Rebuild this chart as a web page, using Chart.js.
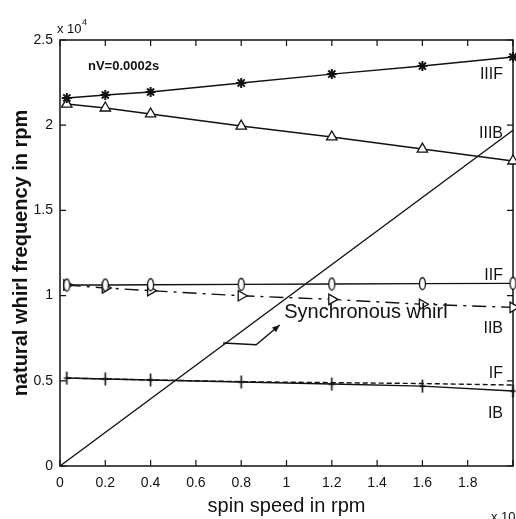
<!DOCTYPE html>
<html>
<head>
<meta charset="utf-8">
<script src="https://cdn.jsdelivr.net/npm/chart.js@4.4.0/dist/chart.umd.min.js"></script>
<style>
  html, body { margin: 0; padding: 0; background: #fff; overflow: hidden; }
  /* a little wider than the window: the plot runs off the right edge like the scan */
  #wrap { position: relative; width: 522px; height: 519px; }
</style>
</head>
<body>
<div id="wrap"><canvas id="whirlChart"></canvas></div>
<script>
// Campbell diagram, both axes in units of 10^4 rpm
const spinSpeed = [0.03, 0.2, 0.4, 0.8, 1.2, 1.6, 2.0];
const modeIIIF = [2.160, 2.177, 2.195, 2.248, 2.300, 2.347, 2.400];
const modeIIIB = [2.124, 2.101, 2.066, 1.995, 1.931, 1.860, 1.790];
const modeIIF = [1.062, 1.062, 1.064, 1.066, 1.068, 1.070, 1.072];
const modeIIB = [1.062, 1.045, 1.029, 0.999, 0.978, 0.949, 0.931];
const modeIF = [0.516, 0.511, 0.505, 0.495, 0.489, 0.484, 0.475];
const modeIB = [0.516, 0.511, 0.505, 0.493, 0.481, 0.469, 0.440];

const syncSpeed = [0, 2];
const syncWhirl = [0, 1.97];

// leader line from the synchronous line to its label
const leaderX = [0.72, 0.866, 0.97];
const leaderY = [0.722, 0.712, 0.827];

const modeNames = ['IIIF', 'IIIB', 'IIF', 'IIB', 'IF', 'IB'];
const nameLevels = [2.271, 1.925, 1.092, 0.781, 0.516, 0.282];

const INK = '#111';
const FONT = '"Liberation Sans", Arial, sans-serif';

function toPoints(xs, ys) {
    return xs.map((x, i) => ({ x: x, y: ys[i] }));
}

// little marker images the built-in point styles don't have
function makeMarker(w, h, draw) {
    const c = document.createElement('canvas');
    c.width = w; c.height = h;
    const g = c.getContext('2d');
    g.strokeStyle = INK;
    g.fillStyle = '#fff';
    g.lineWidth = 1.3;
    draw(g, w, h);
    return c;
}

const ellipseMark = makeMarker(9, 15, (g, w, h) => {
    g.beginPath();
    g.ellipse(w / 2, h / 2, 3, 6, 0, 0, Math.PI * 2);
    g.fill();
    g.stroke();
});

const plusMark = makeMarker(9, 15, (g, w, h) => {
    g.lineWidth = 1.6;
    g.beginPath();
    g.moveTo(w / 2, 1); g.lineTo(w / 2, h - 1);
    g.moveTo(1.5, h / 2); g.lineTo(w - 1.5, h / 2);
    g.stroke();
});

function series(label, ys, extra) {
    return Object.assign({
        label: label,
        data: toPoints(spinSpeed, ys),
        borderColor: INK,
        backgroundColor: '#fff',
        borderWidth: 1.4,
        pointBorderColor: INK,
        pointBorderWidth: 1.3,
        pointRadius: 5,
        tension: 0,
        clip: false
    }, extra);
}

const frame = {
    id: 'frame',
    beforeDatasetsDraw(chart) {
        const { ctx, chartArea: a, scales: { x, y } } = chart;
        ctx.save();
        ctx.strokeStyle = INK;
        ctx.lineWidth = 1.5;
        ctx.strokeRect(a.left, a.top, a.right - a.left, a.bottom - a.top);
        ctx.lineWidth = 1.2;
        ctx.beginPath();
        x.ticks.forEach(t => {
            const px = x.getPixelForValue(t.value);
            ctx.moveTo(px, a.bottom); ctx.lineTo(px, a.bottom - 6);
            ctx.moveTo(px, a.top); ctx.lineTo(px, a.top + 6);
        });
        y.ticks.forEach(t => {
            const py = y.getPixelForValue(t.value);
            ctx.moveTo(a.left, py); ctx.lineTo(a.left + 6, py);
            ctx.moveTo(a.right, py); ctx.lineTo(a.right - 6, py);
        });
        ctx.stroke();
        ctx.restore();
    },
    afterDraw(chart) {
        const { ctx, chartArea: a, scales: { x, y } } = chart;
        ctx.save();
        ctx.fillStyle = INK;
        ctx.strokeStyle = INK;

        // arrow head at the end of the leader
        const n = leaderX.length;
        const x1 = x.getPixelForValue(leaderX[n - 2]), y1 = y.getPixelForValue(leaderY[n - 2]);
        const x2 = x.getPixelForValue(leaderX[n - 1]), y2 = y.getPixelForValue(leaderY[n - 1]);
        const ang = Math.atan2(y2 - y1, x2 - x1);
        ctx.beginPath();
        ctx.moveTo(x2, y2);
        ctx.lineTo(x2 - 8 * Math.cos(ang - 0.4), y2 - 8 * Math.sin(ang - 0.4));
        ctx.lineTo(x2 - 8 * Math.cos(ang + 0.4), y2 - 8 * Math.sin(ang + 0.4));
        ctx.closePath();
        ctx.fill();

        ctx.textBaseline = 'alphabetic';
        ctx.textAlign = 'left';
        ctx.font = '20px ' + FONT;
        ctx.fillText('Synchronous whirl', x.getPixelForValue(0.99), y.getPixelForValue(0.868));

        // mode names at the right edge
        ctx.textAlign = 'right';
        ctx.font = '16px "Liberation Sans Narrow", ' + FONT;
        modeNames.forEach((name, i) => {
            ctx.fillText(name, a.right - 10, y.getPixelForValue(nameLevels[i]));
        });

        ctx.textAlign = 'left';
        ctx.font = 'bold 13px ' + FONT;
        ctx.fillText('nV=0.0002s', a.left + 28, a.top + 30);

        // exponent notes
        ctx.font = '13px ' + FONT;
        ctx.fillText('x 10', a.left - 3, a.top - 7);
        ctx.font = '9px ' + FONT;
        ctx.fillText('4', a.left + 22, a.top - 15);
        ctx.font = '13px ' + FONT;
        ctx.fillText('x 10', a.right - 22, a.bottom + 55);
        ctx.restore();
    }
};

new Chart(document.getElementById('whirlChart'), {
    type: 'line',
    data: {
        datasets: [
            series('IIIF', modeIIIF, { pointStyle: 'star', pointRadius: 5, pointBorderWidth: 2 }),
            series('IIIB', modeIIIB, { pointStyle: 'triangle', pointRadius: 6 }),
            series('IIF', modeIIF, { pointStyle: ellipseMark }),
            series('IIB', modeIIB, { pointStyle: 'triangle', pointRotation: 90, pointRadius: 6, borderDash: [14, 6, 3, 6] }),
            series('IF', modeIF, { pointRadius: 0, borderDash: [5, 3] }),
            series('IB', modeIB, { pointStyle: plusMark }),
            {
                label: 'Synchronous whirl',
                data: toPoints(syncSpeed, syncWhirl),
                borderColor: INK,
                borderWidth: 1.4,
                pointRadius: 0,
                clip: false
            },
            {
                label: 'leader',
                data: toPoints(leaderX, leaderY),
                borderColor: INK,
                borderWidth: 1.4,
                pointRadius: 0
            }
        ]
    },
    options: {
        responsive: true,
        maintainAspectRatio: false,
        animation: false,
        layout: { padding: { top: 40, right: 1, left: 0, bottom: 0 } },
        plugins: {
            legend: { display: false },
            tooltip: { enabled: false }
        },
        scales: {
            x: {
                type: 'linear',
                min: 0,
                max: 2,
                grid: { display: false, drawTicks: false },
                border: { display: false },
                afterFit: s => { s.height = 53; },
                ticks: {
                    stepSize: 0.2,
                    padding: 9,
                    color: INK,
                    font: { family: FONT, size: 14 },
                    maxRotation: 0,
                    callback: v => (v > 1.95 ? '' : String(+v.toFixed(1)))
                },
                title: {
                    display: true,
                    text: 'spin speed in rpm',
                    color: INK,
                    font: { family: FONT, size: 20 },
                    padding: { top: 0, bottom: 1 }
                }
            },
            y: {
                min: 0,
                max: 2.5,
                grid: { display: false, drawTicks: false },
                border: { display: false },
                afterFit: s => { s.width = 60; },
                ticks: {
                    stepSize: 0.5,
                    padding: 7,
                    color: INK,
                    font: { family: FONT, size: 14 },
                    callback: v => String(+v.toFixed(1))
                },
                title: {
                    display: true,
                    text: 'natural whirl frequency in rpm',
                    color: INK,
                    font: { family: FONT, size: 20, weight: 'bold' },
                    padding: { top: 9, bottom: 0 }
                }
            }
        }
    },
    plugins: [frame]
});
</script>
</body>
</html>
